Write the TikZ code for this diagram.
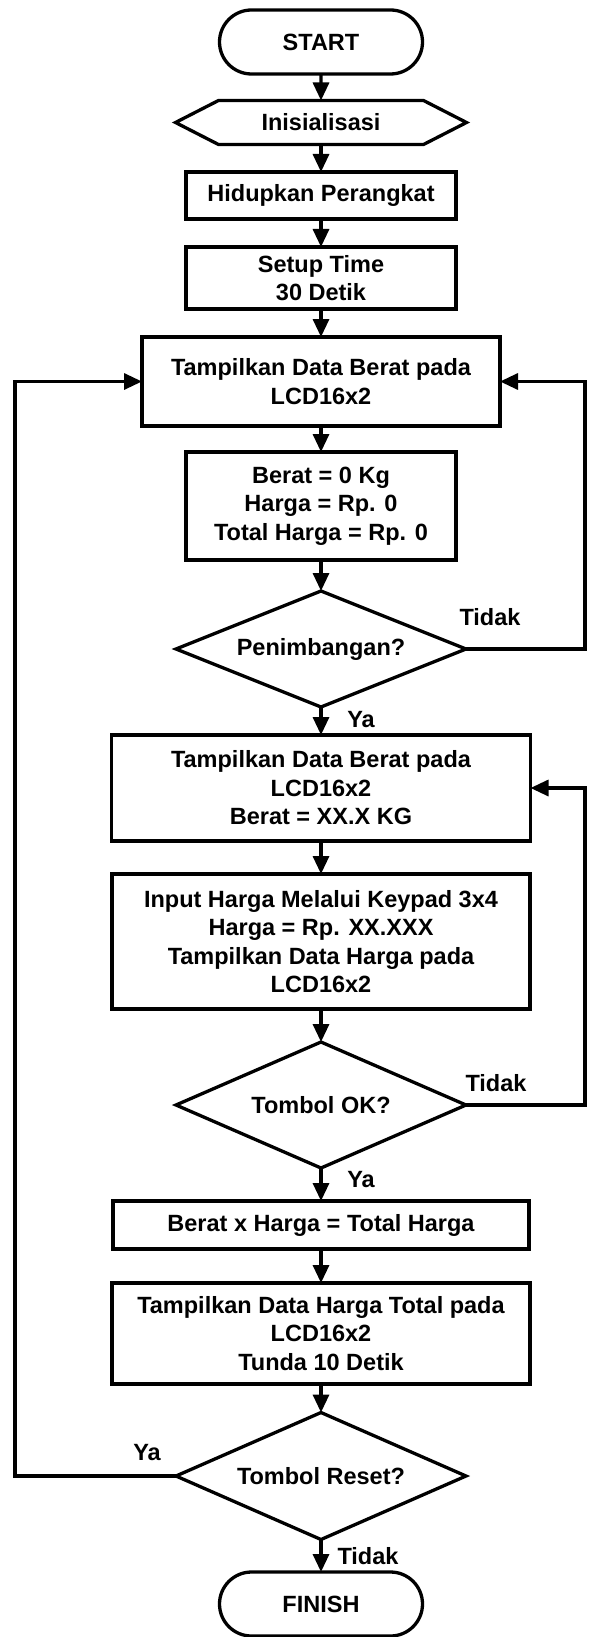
\documentclass[tikz,border=0pt]{standalone}
\usepackage{fontspec}
\setmainfont{Liberation Sans}
\usetikzlibrary{shapes.misc,arrows.meta,calc}
\begin{document}
\begin{tikzpicture}[x=1pt,y=-1pt,
  every node/.style={font=\fontsize{23.5pt}{28.5pt}\selectfont\bfseries, align=center, inner sep=0pt, outer sep=0pt},
  ln/.style={line width=3.3pt},
  arr/.style={line width=3.3pt, -{Triangle[length=18pt,width=16pt]}},
  procbox/.style={draw, line width=3.3pt, rectangle, minimum width=#1},
  term/.style={draw, line width=3.3pt, rounded rectangle, minimum width=203pt, minimum height=64pt},
  decis/.style={rectangle, minimum width=290pt},
  lbl/.style={inner sep=0pt}
]
\useasboundingbox (0,0) rectangle (589,1637);

\node[term] (start) at (321,42) {START};
\node[minimum width=291pt, minimum height=44pt] (init) at (321,122.5) {Inisialisasi};
\draw[ln] (init.west) -- ($(init.north west)+(43,0)$) -- ($(init.north east)+(-43,0)$) -- (init.east)
  -- ($(init.south east)+(-43,0)$) -- ($(init.south west)+(43,0)$) -- cycle;
\node[procbox=270pt, minimum height=47pt] (power) at (321,195.5) {Hidupkan Perangkat};
\node[procbox=270pt, minimum height=62pt] (setup) at (321,278) {Setup Time\\30 Detik};
\node[procbox=358pt, minimum height=89pt] (show1) at (321,381.5) {Tampilkan Data Berat pada\\LCD16x2};
\node[procbox=270pt, minimum height=108pt] (zero) at (321,506) {Berat = 0 Kg\\Harga = Rp. 0\\Total Harga = Rp. 0};
\node[decis, minimum height=116pt] (dec1) at (321,649) {Penimbangan?};
\node[procbox=419pt, minimum height=106pt] (show2) at (321,788) {Tampilkan Data Berat pada\\LCD16x2\\Berat = XX.X KG};
\node[procbox=418pt, minimum height=135pt] (input) at (321,941.5) {Input Harga Melalui Keypad 3x4\\Harga = Rp. XX.XXX\\Tampilkan Data Harga pada\\LCD16x2};
\node[decis, minimum height=126pt] (dec2) at (321,1105) {Tombol OK?};
\node[procbox=416pt, minimum height=48pt] (calc) at (321,1225) {Berat x Harga = Total Harga};
\node[procbox=418pt, minimum height=101pt] (total) at (321,1333.5) {Tampilkan Data Harga Total pada\\LCD16x2\\Tunda 10 Detik};
\node[decis, minimum height=127pt] (dec3) at (321,1476) {Tombol Reset?};
\node[term] (finish) at (321,1604) {FINISH};

\foreach \d in {dec1,dec2,dec3}
  \draw[ln, line join=miter] (\d.north) -- (\d.east) -- (\d.south) -- (\d.west) -- cycle;

\draw[arr] (start) -- (init);
\draw[arr] (init) -- (power);
\draw[arr] (power) -- (setup);
\draw[arr] (setup) -- (show1);
\draw[arr] (show1) -- (zero);
\draw[arr] (zero) -- (dec1);
\draw[arr] (dec1) -- (show2);
\draw[arr] (show2) -- (input);
\draw[arr] (input) -- (dec2);
\draw[arr] (dec2) -- (calc);
\draw[arr] (calc) -- (total);
\draw[arr] (total) -- (dec3);
\draw[arr] (dec3) -- (finish);

\coordinate (r1) at (585,649);
\coordinate (r2) at (585,1105);
\coordinate (l3) at (15,1476);
\draw[arr] (dec1.east) -- (r1) |- (show1.east);
\draw[arr] (dec2.east) -- (r2) |- (show2.east);
\draw[arr] (dec3.west) -- (l3) |- (show1.west);

\node[lbl] (t1) at (490,617) {Tidak};
\node[lbl] (y1) at (361,720) {Ya};
\node[lbl] (t2) at (496,1083) {Tidak};
\node[lbl] (y2) at (361,1180) {Ya};
\node[lbl] (y3) at (147,1453) {Ya};
\node[lbl] (t3) at (368,1556) {Tidak};
\end{tikzpicture}
\end{document}
